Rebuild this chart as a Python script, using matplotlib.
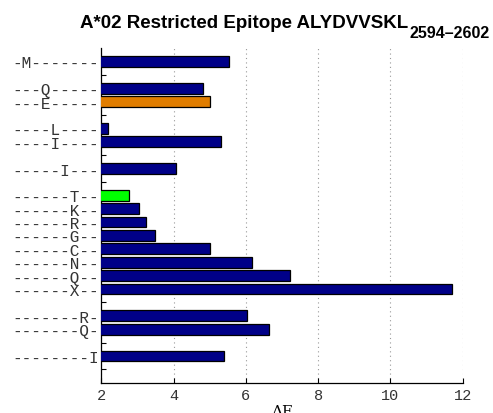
import numpy as np
import matplotlib
matplotlib.use("Agg")
from matplotlib import pyplot as plt

# one row per residue substitution, blank rows separate the positions
row_labels = ['-M-------', '', '---Q-----', '---E-----', '', '----L----', '----I----', '',
              '-----I---', '', '------T--', '------K--', '------R--', '------G--', '------C--',
              '------N--', '------Q--', '------X--', '', '-------R-', '-------Q-', '',
              '--------I', '']
delta_e = [5.54, None, 4.81, 5.02, None, 2.19, 5.30, None,
           4.06, None, 2.77, 3.03, 3.23, 3.49, 5.01,
           6.16, 7.22, 11.71, None, 6.03, 6.63, None,
           5.39, None]
highlight = {'---E-----': '#e07d00', '------T--': '#00ff00'}
base_color = '#000088'
xticks = [2, 4, 6, 8, 10, 12]

mono = 'Liberation Mono'

fig = plt.figure(figsize=(4.93, 4.14), dpi=100)
ax = fig.add_axes([0.2055, 0.0732, 0.733, 0.8084])

ypos = np.arange(1, len(row_labels) + 1)
for y, lab, v in zip(ypos, row_labels, delta_e):
    if v is None:
        continue
    ax.barh(y, v, height=0.8, left=0, color=highlight.get(lab, base_color),
            edgecolor='black', linewidth=0.9, zorder=3)

ax.set_xlim(2, 12)
ax.set_ylim(len(row_labels) + 1, 0)
ax.set_yticks(ypos)
ax.set_yticklabels(row_labels, family=mono, fontsize=11.5, color='#333333')
ax.set_xticks(xticks)
ax.set_xticklabels([str(t) for t in xticks], family=mono, fontsize=11, color='#333333')
ax.tick_params(direction='in', length=3.5, width=0.8, pad=2)
ax.tick_params(axis='x', pad=4)

for s in ['top', 'right']:
    ax.spines[s].set_visible(False)
ax.spines['left'].set_linewidth(0.9)
ax.spines['bottom'].set_linewidth(0.9)

ax.grid(axis='x', linestyle=(0, (1, 3)), color='#999999', linewidth=0.8, zorder=0)

ax.set_xlabel('ΔE', family='DejaVu Serif', fontsize=11, labelpad=1)

title = fig.text(80 / 493, 1 - 28 / 414, 'A*02 Restricted Epitope ALYDVVSKL',
                 fontsize=13.5, fontweight='bold', family='Liberation Sans',
                 ha='left', va='baseline')
ax.annotate('2594\u20132602', xy=(1, 0), xycoords=title, xytext=(1, -4.5),
            textcoords='offset points', fontsize=11.5, fontweight='bold',
            family='Liberation Sans', ha='left', va='baseline')

fig.savefig('out.png', dpi=100)
